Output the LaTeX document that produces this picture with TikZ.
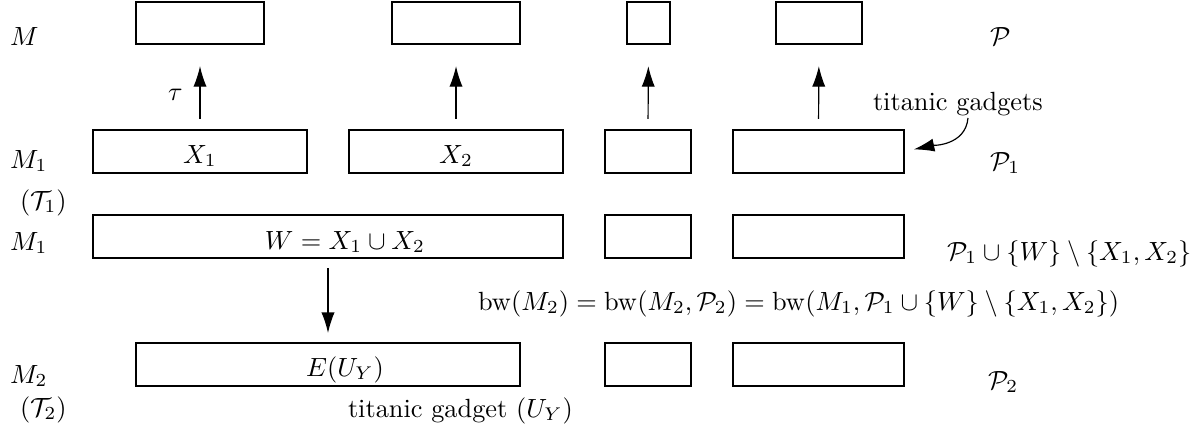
\documentclass[tikz,border=0pt]{standalone}
\usetikzlibrary{arrows.meta}
\begin{document}
\begin{tikzpicture}[x=0.38pt,y=-0.38pt,
  bx/.style={draw,line width=0.45pt,inner sep=0pt,outer sep=0pt},
  lbl/.style={inner sep=0pt,outer sep=0pt,anchor=base west},
  ctr/.style={inner sep=0pt,outer sep=0pt,anchor=base},
  arr/.style={line width=0.45pt,-{Latex[length=7.8pt,width=5pt]}}]
\useasboundingbox (0,0) rectangle (1203,431);
\newcommand{\boxnode}[5]{\node[bx,minimum width={(#4-#2)*0.38pt},minimum height={(#5-#3)*0.38pt}] (#1) at ({(#2+#4)/2},{(#3+#5)/2}) {};}
% top row (M)
\boxnode{t1}{136}{2}{264}{44}
\boxnode{t2}{392}{2}{520}{44}
\boxnode{t3}{627}{2}{670}{44}
\boxnode{t4}{776}{2}{862}{44}
% row M1 (T1)
\boxnode{a1}{93}{130}{307}{173}
\boxnode{a2}{349}{130}{563}{173}
\boxnode{a3}{605}{130}{691}{173}
\boxnode{a4}{733}{130}{904}{173}
% row M1 with W
\boxnode{w}{93}{215}{563}{258}
\boxnode{b3}{605}{215}{691}{258}
\boxnode{b4}{733}{215}{904}{258}
% row M2
\boxnode{e}{136}{343}{520}{386}
\boxnode{c3}{605}{343}{691}{386}
\boxnode{c4}{733}{343}{904}{386}
% texts in boxes
\node[ctr] (x1) at (200,163) {$X_1$};
\node[ctr] (x2) at (456,163) {$X_2$};
\node[ctr] (wt) at (345,249) {$W = X_1 \cup X_2$};
\node[ctr] (et) at (345,376) {$E(U_Y)$};
% left labels
\node[lbl] (m) at (10,45) {$M$};
\node[lbl] (m1a) at (10,168) {$M_1$};
\node[lbl] (t1l) at (20,209) {$(\mathcal{T}_1)$};
\node[lbl] (m1b) at (10,250) {$M_1$};
\node[lbl] (m2) at (10,383) {$M_2$};
\node[lbl] (t2l) at (20,416) {$(\mathcal{T}_2)$};
% right labels
\node[lbl] (p) at (990,45) {$\mathcal{P}$};
\node[lbl] (p1) at (990,170) {$\mathcal{P}_1$};
\node[lbl] (p1w) at (947,260) {$\mathcal{P}_1 \cup \{W\} \setminus \{X_1, X_2\}$};
\node[lbl] (p2) at (988,389) {$\mathcal{P}_2$};
% other labels
\node[lbl] (tau) at (168,100) {$\tau$};
\node[lbl] (tg) at (873,110) {titanic gadgets};
\node[lbl] (bw) at (478,310) {$\mathrm{bw}(M_2) = \mathrm{bw}(M_2,\mathcal{P}_2) = \mathrm{bw}(M_1,\mathcal{P}_1 \cup \{W\} \setminus \{X_1, X_2\})$};
\node[lbl] (tgu) at (348,417) {titanic gadget $(U_Y)$};
% arrows
\draw[arr,shorten <=4.2pt,shorten >=8.4pt] (a1.north) -- (t1.south);
\draw[arr,shorten <=4.2pt,shorten >=8.4pt] (a2.north) -- (t2.south);
\draw[arr,shorten <=4.2pt,shorten >=8.4pt] (a3.north) -- (t3.south);
\draw[arr,shorten <=4.2pt,shorten >=8.4pt] (a4.north) -- (t4.south);
\draw[arr,shorten <=3.8pt,shorten >=3.8pt] (w.south) -- (e.north);
\coordinate (cs) at (968,118);
\draw[arr,shorten >=3.8pt] (cs) to[out=-95,in=12] (a4.east);
\end{tikzpicture}
\end{document}
